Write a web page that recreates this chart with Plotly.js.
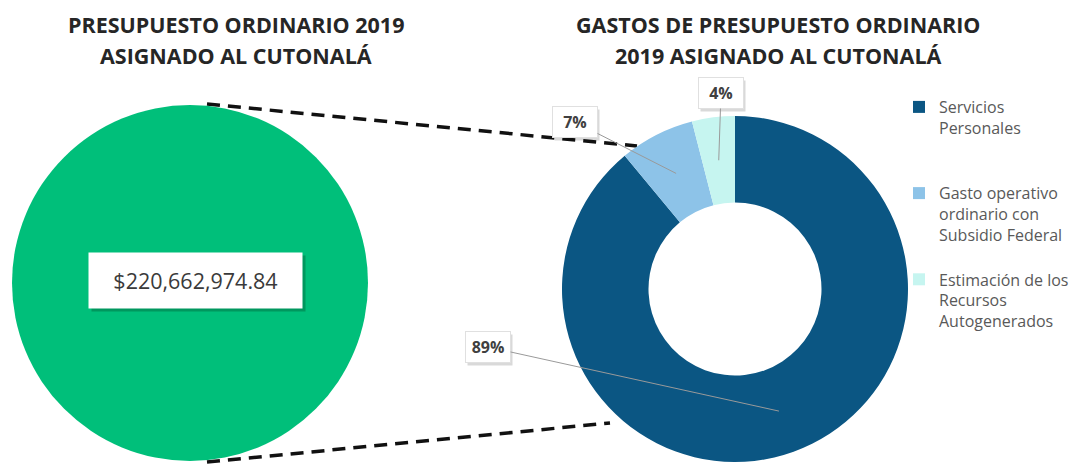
<!DOCTYPE html>
<html>
<head>
<meta charset="utf-8">
<script src="https://cdn.plot.ly/plotly-3.0.1.min.js"></script>
<style>html,body{margin:0;padding:0;background:#fff;}#chart{width:1083px;height:466px;}</style>
</head>
<body>
<div id="chart"></div>
<script>
// ---- data ----
var totalLabels = ['Presupuesto ordinario 2019 asignado al CUTonalá'];
var totalValues = [220662974.84];
var categories = ['Servicios Personales', 'Gasto operativo ordinario con Subsidio Federal', 'Estimación de los Recursos Autogenerados'];
var legendLines = [['Servicios', 'Personales'], ['Gasto operativo', 'ordinario con', 'Subsidio Federal'], ['Estimación de los', 'Recursos', 'Autogenerados']];
var shares = [89, 7, 4];
var leftTitleLines = ['PRESUPUESTO ORDINARIO 2019', 'ASIGNADO AL CUTONALÁ'];
var rightTitleLines = ['GASTOS DE PRESUPUESTO ORDINARIO', '2019 ASIGNADO AL CUTONALÁ'];

// ---- styles / layout ----
var W = 1083, H = 466;
var sliceColors = ['#0b5683', '#8dc3e8', '#c6f5f0'];
var leftDomain = {x: [12 / W, 368 / W], y: [1 - 461 / H, 1 - 105 / H]};
var rightDomain = {x: [562 / W, 908 / W], y: [1 - 462 / H, 1 - 116 / H]};
var hole = 0.5;
var legendPad = [2, 1, 0];
var labelPos = [[488, 347], [575, 122], [721, 93]];

function geom(d) {
  var x0 = d.x[0] * W, x1 = d.x[1] * W, yt = (1 - d.y[1]) * H, yb = (1 - d.y[0]) * H;
  return {cx: (x0 + x1) / 2, cy: (yt + yb) / 2, r: Math.min(x1 - x0, yb - yt) / 2};
}

var legendLabels = legendLines.map(function (lines, i) {
  var pad = [];
  for (var k = 0; k < legendPad[i]; k++) pad.push(' ');
  return lines.concat(pad).join('<br>');
});

var traces = [
  {
    type: 'pie', labels: totalLabels, values: totalValues, domain: leftDomain,
    marker: {colors: ['#00bf7a'], line: {width: 0}}, textinfo: 'none', hoverinfo: 'label+value',
    showlegend: false, sort: false
  },
  {
    type: 'pie', labels: legendLabels, values: shares, domain: rightDomain, hole: hole,
    marker: {colors: sliceColors, line: {width: 0}}, textinfo: 'none', sort: false,
    direction: 'clockwise', rotation: 0, hovertext: categories, hoverinfo: 'text+percent'
  }
];

var annotations = [];
// titles
function addTitle(lines, cx) {
  lines.forEach(function (t, i) {
    annotations.push({xref: 'paper', yref: 'paper', x: cx / W, y: 1 - (24 + 32 * i) / H,
      xanchor: 'center', yanchor: 'middle', showarrow: false, text: t,
      font: {family: 'Open Sans', size: 21.5, weight: 700, color: '#262626'}});
  });
}
addTitle(leftTitleLines, 236);
addTitle(rightTitleLines, 778);

// total value box
var gL = geom(leftDomain);
var totalText = '$' + totalValues[0].toLocaleString('en-US', {minimumFractionDigits: 2, maximumFractionDigits: 2});
annotations.push({xref: 'paper', yref: 'paper', x: gL.cx / W, y: 1 - gL.cy / H, xanchor: 'center', yanchor: 'middle',
  xshift: 8, yshift: 0,
  showarrow: false, text: '', width: 207, height: 49, borderpad: 3, bgcolor: 'rgba(0,60,30,0.3)'});
annotations.push({xref: 'paper', yref: 'paper', x: gL.cx / W, y: 1 - gL.cy / H, xanchor: 'center', yanchor: 'middle',
  xshift: 5, yshift: 3,
  showarrow: false, text: totalText, width: 207, height: 49, borderpad: 3, bgcolor: '#ffffff',
  font: {family: 'Open Sans', size: 21.5, color: '#3a3a3a'}});

// percentage labels with leader lines
var gR = geom(rightDomain);
var total = shares.reduce(function (a, b) { return a + b; }, 0);
var cum = 0;
shares.forEach(function (v, i) {
  var mid = (cum + v / 2) / total * 2 * Math.PI;
  cum += v;
  var rr = gR.r * (1 + hole) / 2;
  var px = gR.cx + rr * Math.sin(mid), py = gR.cy - rr * Math.cos(mid);
  annotations.push({xref: 'paper', yref: 'paper', x: (labelPos[i][0] + 2) / W, y: 1 - (labelPos[i][1] + 3) / H,
    xanchor: 'center', yanchor: 'middle',
    showarrow: false, text: '', width: 36, height: 22, borderpad: 4, bgcolor: 'rgba(0,0,0,0.15)'});
  annotations.push({xref: 'paper', yref: 'paper', x: px / W, y: 1 - py / H,
    ax: labelPos[i][0] - px, ay: labelPos[i][1] - py, axref: 'pixel', ayref: 'pixel',
    showarrow: true, arrowhead: 0, arrowwidth: 1, arrowcolor: '#9a9a9a',
    text: Math.round(v / total * 100) + '%', width: 36, height: 22, borderpad: 4,
    bgcolor: '#ffffff', bordercolor: '#e0e0e0', borderwidth: 1,
    font: {family: 'Open Sans', size: 16, weight: 700, color: '#404040'}});
});

var shapes = [
  {type: 'line', xref: 'paper', yref: 'paper', x0: 207 / W, y0: 1 - 104 / H, x1: 637 / W, y1: 1 - 146 / H,
    line: {color: '#111', width: 3.5, dash: '13px,8px'}, layer: 'below'},
  {type: 'line', xref: 'paper', yref: 'paper', x0: 207 / W, y0: 1 - 462 / H, x1: 610 / W, y1: 1 - 423 / H,
    line: {color: '#111', width: 3.5, dash: '13px,8px'}, layer: 'below'}
];

var layout = {
  width: W, height: H,
  margin: {l: 0, r: 0, t: 0, b: 0},
  paper_bgcolor: '#ffffff', plot_bgcolor: '#ffffff',
  showlegend: true,
  legend: {x: 899 / W, xanchor: 'left', y: 1 - 90 / H, yanchor: 'top', valign: 'top',
    itemwidth: 30, bgcolor: 'rgba(0,0,0,0)', borderwidth: 0,
    font: {family: 'Open Sans', size: 16, color: '#595959'}},
  annotations: annotations,
  shapes: shapes
};

Plotly.newPlot('chart', traces, layout, {displayModeBar: false, staticPlot: true});
</script>
</body>
</html>
